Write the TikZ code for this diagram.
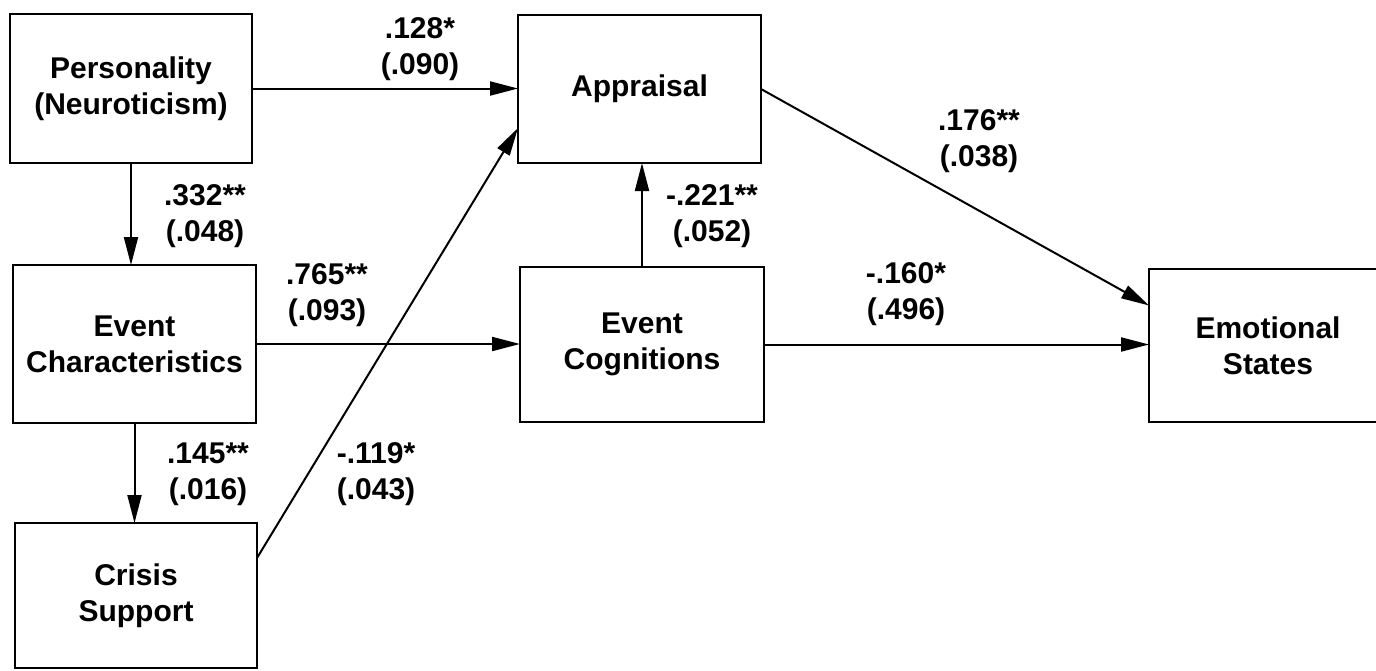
\documentclass[tikz,border=0pt]{standalone}
\usepackage{fontspec}
\setmainfont{Liberation Sans}
\usetikzlibrary{arrows.meta,calc}
\begin{document}
\begin{tikzpicture}[x=1pt,y=-1pt,
  box/.style={draw, line width=2.2pt, outer sep=0pt, inner sep=0pt, align=center,
    font=\fontsize{30pt}{36pt}\selectfont\bfseries},
  lbl/.style={align=center, inner sep=0pt, font=\fontsize{30pt}{36pt}\selectfont\bfseries},
  conn/.style={line width=2pt, -{Triangle[length=28pt,width=14pt]}}]
\fill[white] (0,0) rectangle (1376,670);
\useasboundingbox (0,0) rectangle (1376,670);

\node[box, minimum width=242pt, minimum height=149pt] (pers) at (131,88.5) {Personality\\(Neuroticism)};
\node[box, minimum width=243pt, minimum height=158pt] (evch) at (134.5,344) {Event\\Characteristics};
\node[box, minimum width=242pt, minimum height=145pt] (cris) at (136,595.5) {Crisis\\Support};
\node[box, minimum width=243pt, minimum height=148pt] (appr) at (639.5,89) {Appraisal};
\node[box, minimum width=244pt, minimum height=155pt] (evco) at (642,344.5) {Event\\Cognitions};
\node[box, minimum width=238pt, minimum height=153pt] (emot) at (1268,345.5) {Emotional\\States};

\draw[conn] (pers.east) -- (pers.east -| appr.west);
\draw[conn] (pers.south) -- (pers.south |- evch.north);
\draw[conn] (evch.east) -- (evch.east -| evco.west);
\draw[conn] (evch.south) -- (evch.south |- cris.north);
\draw[conn] ($(cris.north east)+(0,35)$) -- ($(appr.south west)+(0,-35)$);
\draw[conn] (evco.north) -- (evco.north |- appr.south);
\draw[conn] (appr.east) -- ($(emot.west)+(0,-40)$);
\draw[conn] (evco.east) -- (evco.east -| emot.west);

\node[lbl] (l1) at (420,49) {.128*\\(.090)};
\node[lbl] (l2) at (205,216) {.332**\\(.048)};
\node[lbl] (l3) at (327,295) {.765**\\(.093)};
\node[lbl] (l4) at (208,474) {.145**\\(.016)};
\node[lbl] (l5) at (376,474) {-.119*\\(.043)};
\node[lbl] (l6) at (712,216) {-.221**\\(.052)};
\node[lbl] (l7) at (979,141) {.176**\\(.038)};
\node[lbl] (l8) at (906,294) {-.160*\\(.496)};
\end{tikzpicture}
\end{document}
